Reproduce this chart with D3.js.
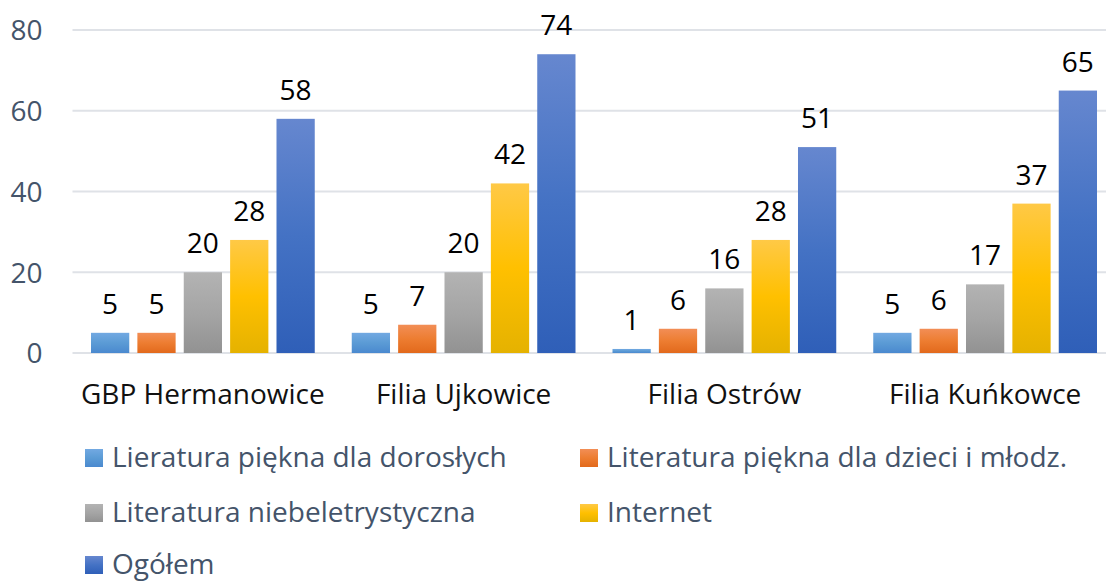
<!DOCTYPE html>
<html>
<head>
<meta charset="utf-8">
<script src="https://cdn.jsdelivr.net/npm/d3@7"></script>
<style>
  body { margin: 0; background: #fff; }
  svg { display: block; font-family: "Open Sans", sans-serif; }
</style>
</head>
<body>
<div id="chart"></div>
<script>
// data
const categories = ["GBP Hermanowice", "Filia Ujkowice", "Filia Ostrów", "Filia Kuńkowce"];
const seriesNames = [
    "Lieratura piękna dla dorosłych",
    "Literatura piękna dla dzieci i młodz.",
    "Literatura niebeletrystyczna",
    "Internet",
    "Ogółem"
];
const doroslych = [5, 5, 1, 5];
const dzieci = [5, 7, 6, 6];
const niebeletrystyczna = [20, 20, 16, 17];
const internet = [28, 42, 28, 37];
const ogolem = [58, 74, 51, 65];
const yTicks = [0, 20, 40, 60, 80];

const seriesValues = [doroslych, dzieci, niebeletrystyczna, internet, ogolem];

// gradient colours per series: top, middle, bottom
const seriesColors = [
    ["#72a9e2", "#5b9bd5", "#4a89cf"],
    ["#f28e56", "#ed7d31", "#e2691c"],
    ["#b3b3b3", "#a5a5a5", "#929292"],
    ["#ffc946", "#ffc000", "#e5b200"],
    ["#6687cf", "#4472c4", "#2f5fb8"]
];

const width = 1106;
const height = 583;
const margin = {top: 30, left: 72.5};
const plotWidth = 1043;
const plotHeight = 323;
const fontSize = 28;

const svg = d3.select("#chart").append("svg")
    .attr("width", width)
    .attr("height", height);

const defs = svg.append("defs");
seriesColors.forEach(function(c, i) {
    const g = defs.append("linearGradient")
        .attr("id", "grad" + i)
        .attr("x1", 0).attr("y1", 0).attr("x2", 0).attr("y2", 1);
    g.append("stop").attr("offset", "0%").attr("stop-color", c[0]);
    g.append("stop").attr("offset", "50%").attr("stop-color", c[1]);
    g.append("stop").attr("offset", "100%").attr("stop-color", c[2]);
});

const x0 = d3.scaleBand()
    .domain(categories)
    .range([0, plotWidth])
    .paddingInner(0)
    .paddingOuter(0);

const x1 = d3.scaleBand()
    .domain(d3.range(seriesNames.length))
    .range([18.5, x0.bandwidth() - 18.5])
    .paddingInner(0.175)
    .paddingOuter(0);

const y = d3.scaleLinear()
    .domain([0, 80])
    .range([plotHeight, 0]);

const chartArea = svg.append("g")
    .attr("transform", "translate(" + margin.left + "," + margin.top + ")");

// gridlines
chartArea.append("g")
    .attr("class", "grid")
    .selectAll("line")
    .data(yTicks)
    .enter().append("line")
        .attr("x1", 0)
        .attr("x2", plotWidth)
        .attr("y1", function(d) { return y(d); })
        .attr("y2", function(d) { return y(d); })
        .attr("stroke", "#dfe2e7")
        .attr("stroke-width", 2);

// y axis labels
const yAxis = d3.axisLeft(y).tickValues(yTicks).tickSize(0).tickPadding(30);
chartArea.append("g")
    .attr("class", "y-axis")
    .call(yAxis)
    .call(function(g) { g.select(".domain").remove(); })
    .selectAll("text")
        .attr("font-size", fontSize)
        .attr("font-family", "Open Sans, sans-serif")
        .attr("fill", "#44546a")
        .attr("dy", "0.35em");

// x axis labels
const xAxis = d3.axisBottom(x0).tickSize(0).tickPadding(31);
chartArea.append("g")
    .attr("class", "x-axis")
    .attr("transform", "translate(0," + plotHeight + ")")
    .call(xAxis)
    .call(function(g) { g.select(".domain").remove(); })
    .selectAll("text")
        .attr("font-size", fontSize)
        .attr("font-family", "Open Sans, sans-serif")
        .attr("fill", "#111");

// bars
const groups = chartArea.selectAll(".group")
    .data(categories)
    .enter().append("g")
        .attr("class", "group")
        .attr("transform", function(d) { return "translate(" + x0(d) + ",0)"; });

groups.selectAll("rect")
    .data(function(d, ci) { return seriesValues.map(function(vals, si) { return {s: si, v: vals[ci]}; }); })
    .enter().append("rect")
        .attr("x", function(d) { return x1(d.s); })
        .attr("y", function(d) { return y(d.v); })
        .attr("width", x1.bandwidth())
        .attr("height", function(d) { return plotHeight - y(d.v); })
        .attr("fill", function(d) { return "url(#grad" + d.s + ")"; });

groups.selectAll(".label")
    .data(function(d, ci) { return seriesValues.map(function(vals, si) { return {s: si, v: vals[ci]}; }); })
    .enter().append("text")
        .attr("class", "label")
        .attr("x", function(d) { return x1(d.s) + x1.bandwidth() / 2; })
        .attr("y", function(d) { return y(d.v) - 19; })
        .attr("text-anchor", "middle")
        .attr("font-size", fontSize)
        .attr("fill", "#000")
        .text(function(d) { return d.v; });

// legend
const legendPos = [
    [85, 458], [580, 458],
    [85, 513], [580, 513],
    [85, 565]
];
const legend = svg.append("g").attr("class", "legend");
const items = legend.selectAll(".item")
    .data(seriesNames)
    .enter().append("g")
        .attr("class", "item")
        .attr("transform", function(d, i) { return "translate(" + legendPos[i][0] + "," + legendPos[i][1] + ")"; });

items.append("rect")
    .attr("x", 0)
    .attr("y", -9)
    .attr("width", 18)
    .attr("height", 18)
    .attr("fill", function(d, i) { return "url(#grad" + i + ")"; });

items.append("text")
    .attr("x", 27)
    .attr("dy", "0.32em")
    .attr("font-size", fontSize)
    .attr("fill", "#44546a")
    .text(function(d) { return d; });
</script>
</body>
</html>
